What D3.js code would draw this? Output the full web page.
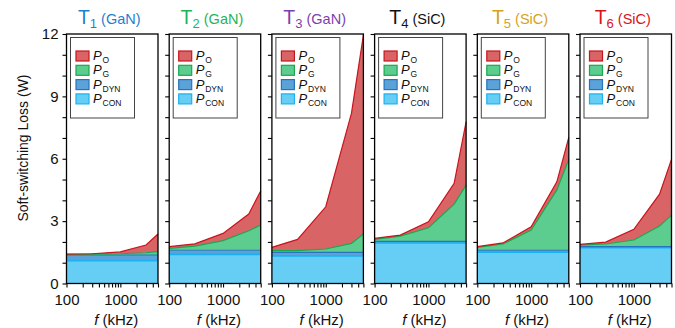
<!DOCTYPE html>
<html><head><meta charset="utf-8">
<script src="https://cdn.jsdelivr.net/npm/d3@7"></script>
<style>body{margin:0;background:#fff}svg{display:block;font-family:"Liberation Sans",Arial,sans-serif}</style>
</head><body><svg id="c" width="675" height="328"></svg>
<script>
const freqs = [100, 300, 1000, 3000, 5000];
const devices = ["T1", "T2", "T3", "T4", "T5", "T6"];
const subs = ["1", "2", "3", "4", "5", "6"];
const types = ["GaN", "GaN", "GaN", "SiC", "SiC", "SiC"];
const titleColors = ["#1f7fd0", "#1fb45a", "#7c3fae", "#111111", "#d6a21c", "#d8141c"];
const pCon = [
  [1.10, 1.10, 1.10, 1.10, 1.10],
  [1.40, 1.40, 1.40, 1.40, 1.40],
  [1.32, 1.32, 1.32, 1.32, 1.32],
  [1.95, 1.95, 1.95, 1.95, 1.95],
  [1.50, 1.50, 1.50, 1.50, 1.50],
  [1.72, 1.72, 1.72, 1.72, 1.72]
];
const pDyn = [
  [0.27, 0.27, 0.27, 0.27, 0.27],
  [0.20, 0.20, 0.20, 0.20, 0.20],
  [0.18, 0.18, 0.18, 0.18, 0.18],
  [0.08, 0.08, 0.08, 0.08, 0.08],
  [0.10, 0.10, 0.10, 0.10, 0.10],
  [0.05, 0.05, 0.05, 0.05, 0.05]
];
const pG = [
  [0.03, 0.04, 0.06, 0.11, 0.16],
  [0.09, 0.20, 0.46, 0.94, 1.21],
  [0.08, 0.08, 0.16, 0.43, 0.88],
  [0.09, 0.25, 0.65, 1.79, 2.70],
  [0.14, 0.30, 0.97, 2.90, 4.37],
  [0.08, 0.13, 0.32, 0.99, 1.52]
];
const pO = [
  [0.01, 0.02, 0.09, 0.37, 0.85],
  [0.08, 0.11, 0.35, 0.80, 1.64],
  [0.16, 0.54, 2.03, 6.25, 9.57],
  [0.05, 0.05, 0.29, 1.00, 3.05],
  [0.03, 0.05, 0.16, 0.39, 1.06],
  [0.03, 0.09, 0.52, 1.54, 2.68]
];
const yTicks = [0, 3, 6, 9, 12];
const xTickLabels = [100, 1000];
const legendKeys = ["O", "G", "DYN", "CON"];

const fills = {CON: "#66cef4", DYN: "#5aa2d8", G: "#5ccd8e", O: "#d96466"};
const strokes = {CON: "#1ab2f0", DYN: "#2574c0", G: "#18a84e", O: "#c8141c"};

const svg = d3.select("#c");
const plotTop = 34, plotBottom = 283.5, pw = 91.5, step = 102.7, left0 = 66.5;
const y = d3.scaleLinear().domain([0, 12]).range([plotBottom, plotTop]);

devices.forEach((d, i) => {
  const x0 = left0 + i * step;
  const x = d3.scaleLog().domain([100, 5000]).range([x0, x0 + pw]);
  const g = svg.append("g");
  const rows = freqs.map((f, j) => ({f, CON: pCon[i][j], DYN: pDyn[i][j], G: pG[i][j], O: pO[i][j]}));
  const stack = d3.stack().keys(["CON", "DYN", "G", "O"])(rows);
  const area = d3.area().x(p => x(p.data.f)).y0(p => y(p[0])).y1(p => y(Math.min(p[1], 12)));
  const line = d3.line().x(p => x(p.data.f)).y(p => y(Math.min(p[1], 12)));
  stack.forEach(s => {
    g.append("path").attr("d", area(s)).attr("fill", fills[s.key]);
  });
  stack.forEach(s => {
    g.append("path").attr("d", line(s)).attr("fill", "none").attr("stroke", strokes[s.key]).attr("stroke-width", s.key === "CON" ? 1.6 : 1.2);
  });
  g.append("rect").attr("x", x0).attr("y", plotTop).attr("width", pw).attr("height", plotBottom - plotTop)
    .attr("fill", "none").attr("stroke", "#000").attr("stroke-width", 1.3);
  const ya = d3.axisLeft(y).tickValues(d3.range(0, 13, 1)).tickSize(4).tickFormat(v => (i === 0 && yTicks.includes(v)) ? v : "");
  const yg = g.append("g").attr("transform", `translate(${x0},0)`).call(ya);
  yg.select(".domain").remove();
  yg.selectAll("line").attr("stroke", "#000").attr("stroke-width", 1.1);
  yg.selectAll("text").attr("font-size", 15).attr("fill", "#111").attr("x", -8).attr("font-family", "Liberation Sans, Arial");
  const minor = [];
  [100, 1000].forEach(dec => { for (let k = 1; k < 10; k++) { const v = dec * k; if (v <= 5000) minor.push(v); } });
  const xa = d3.axisBottom(x).tickValues(minor).tickSize(4).tickFormat(v => xTickLabels.includes(v) ? v : "");
  const xg = g.append("g").attr("transform", `translate(0,${plotBottom})`).call(xa);
  xg.select(".domain").remove();
  xg.selectAll("line").attr("stroke", "#000").attr("stroke-width", 1.1);
  xg.selectAll("text").attr("font-size", 15).attr("fill", "#111").attr("dy", "0.95em").attr("font-family", "Liberation Sans, Arial");
  const xl = g.append("text").attr("x", x0 + pw / 2 + 4).attr("y", 325).attr("text-anchor", "middle").attr("font-size", 15).attr("fill", "#111");
  xl.append("tspan").attr("font-style", "italic").text("f");
  xl.append("tspan").text(" (kHz)");
  const t = g.append("text").attr("x", x0 + pw / 2 - 3).attr("y", 24).attr("text-anchor", "middle").attr("fill", titleColors[i]);
  t.append("tspan").attr("font-size", 19.5).text("T");
  t.append("tspan").attr("font-size", 13).attr("dy", 4).text(subs[i]);
  t.append("tspan").attr("font-size", 14.5).attr("dy", -4).text(" (" + types[i] + ")");
  const lx = x0 + 4, ly = 37.5;
  g.append("rect").attr("x", lx).attr("y", ly).attr("width", 64).attr("height", 80.5)
    .attr("fill", "#fff").attr("stroke", "#444").attr("stroke-width", 1);
  legendKeys.forEach((k, j) => {
    const cy = 56 + j * 14.3;
    g.append("rect").attr("x", lx + 5.5).attr("y", cy - 5).attr("width", 13).attr("height", 10)
      .attr("fill", fills[k]).attr("stroke", strokes[k]).attr("stroke-width", 1.2);
    g.append("text").attr("x", lx + 22.5).attr("y", cy + 4).attr("fill", "#111")
      .attr("font-size", 13).attr("font-style", "italic").text("P");
    g.append("text").attr("x", lx + 32).attr("y", cy + 7).attr("fill", "#111")
      .attr("font-size", 8.5).text(k);
  });
});

svg.append("text").attr("transform", "translate(28,148) rotate(-90)").attr("text-anchor", "middle")
  .attr("font-size", 14).attr("fill", "#111").text("Soft-switching Loss (W)");
</script>
</body></html>
